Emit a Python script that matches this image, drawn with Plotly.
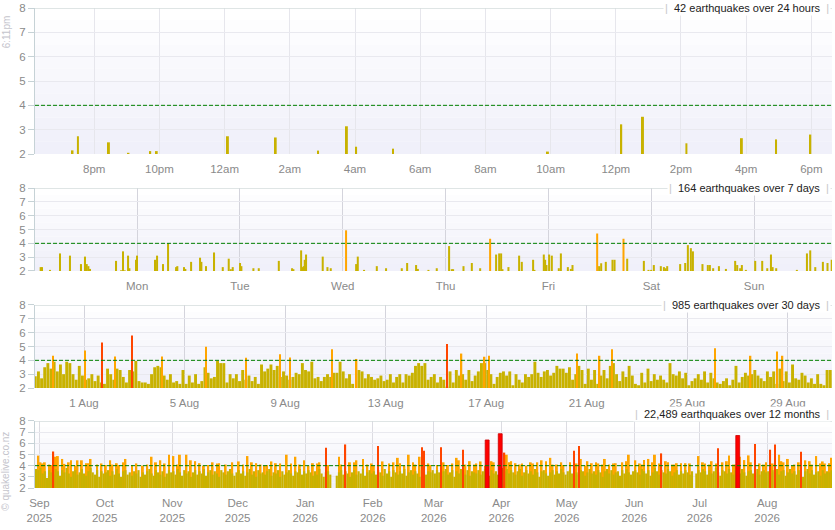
# Quake activity chart: four stacked magnitude panels (24h / 7d / 30d / 12 months)
import pandas as pd
import plotly.graph_objects as go
from plotly.subplots import make_subplots

# ---------------- 24 hours (individual quakes above M2) ----------------
day_times = ["2026-08-29 19:20", "2026-08-29 19:30", "2026-08-29 20:27", "2026-08-29 21:03",
             "2026-08-29 21:43", "2026-08-29 21:55", "2026-08-30 00:06", "2026-08-30 01:34",
             "2026-08-30 02:52", "2026-08-30 03:45", "2026-08-30 04:02", "2026-08-30 05:10",
             "2026-08-30 09:55", "2026-08-30 12:10", "2026-08-30 12:50", "2026-08-30 14:10",
             "2026-08-30 15:52", "2026-08-30 16:55", "2026-08-30 17:58"]
day_mags = [2.15, 2.73, 2.48, 2.05, 2.12, 2.12, 2.73, 2.68, 2.14, 3.14, 2.30, 2.22,
            2.10, 3.22, 3.53, 2.44, 2.65, 2.60, 2.80]

# ---------------- 7 days (days after week_start) ----------------
week_start = "2026-08-23 00:10"
week_offsets = [0.055, 0.068, 0.146, 0.243, 0.340, 0.447, 0.486, 0.503, 0.519, 0.535,
                0.788, 0.837, 0.856, 0.872, 0.905, 0.918, 0.982, 0.992, 1.167, 1.187,
                1.245, 1.294, 1.372, 1.384, 1.449, 1.462, 1.518, 1.605, 1.618, 1.663,
                1.741, 1.826, 1.884, 1.904, 1.923, 1.994, 2.007, 2.124, 2.176, 2.371,
                2.500, 2.513, 2.588, 2.604, 2.614, 2.623, 2.636, 2.798, 2.844, 2.876,
                3.025, 3.123, 3.139, 3.200, 3.324, 3.414, 3.567, 3.619, 3.706, 3.723,
                3.826, 3.907, 4.027, 4.053, 4.066, 4.167, 4.248, 4.329, 4.426, 4.484,
                4.514, 4.533, 4.546, 4.604, 4.708, 4.734, 4.844, 4.857, 4.948, 4.961,
                4.974, 5.000, 5.026, 5.094, 5.114, 5.182, 5.211, 5.227, 5.467, 5.486,
                5.506, 5.551, 5.616, 5.636, 5.723, 5.759, 5.921, 5.966, 5.992, 6.018,
                6.086, 6.116, 6.132, 6.148, 6.274, 6.323, 6.349, 6.378, 6.398, 6.491,
                6.543, 6.563, 6.595, 6.651, 6.719, 6.809, 6.829, 6.858, 6.874, 6.913,
                7.004, 7.072, 7.121, 7.157, 7.173, 7.208, 7.409, 7.507, 7.539, 7.588,
                7.662, 7.707, 7.748]
week_mags = [2.28, 2.28, 2.08, 3.27, 3.11, 2.50, 3.04, 2.50, 2.35, 2.15,
             2.73, 2.05, 3.42, 2.05, 3.11, 2.20, 2.81, 3.11, 2.81, 3.11,
             2.50, 3.99, 2.28, 2.35, 2.28, 2.15, 2.66, 2.96, 2.66, 2.35,
             3.34, 2.28, 2.89, 2.13, 2.28, 2.58, 2.35, 2.20, 2.20, 2.73,
             2.20, 2.13, 3.49, 2.28, 2.35, 2.81, 3.19, 3.04, 2.28, 2.20,
             4.94, 2.50, 3.04, 2.08, 2.35, 2.20, 2.20, 2.58, 2.43, 2.15,
             2.08, 2.20, 3.80, 2.13, 2.13, 2.35, 2.58, 2.20, 4.33, 3.19,
             3.27, 3.27, 2.13, 2.28, 3.11, 2.66, 2.81, 2.08, 3.19, 2.81,
             2.43, 3.19, 3.11, 2.20, 3.27, 2.28, 2.15, 2.43, 4.71, 2.35,
             2.56, 2.66, 2.81, 2.81, 4.33, 2.89, 2.73, 2.08, 2.08, 2.43,
             2.35, 2.28, 2.20, 2.35, 2.50, 2.58, 3.87, 3.65, 3.42, 2.50,
             2.43, 2.43, 2.20, 2.35, 2.15, 2.73, 2.43, 2.20, 2.43, 2.08,
             2.73, 2.73, 2.20, 3.19, 2.28, 2.20, 2.08, 3.27, 3.49, 2.28,
             2.66, 2.58, 2.81]

# ---------------- 30 days ----------------
# largest quake below M4 in each 3-hour window, one row per day from 30 Jul
month_bin_start = "2026-07-30 00:00"
month_bins = [
    2.85, 3.2, 2.7, 3.5, 3.8, 3.4, 3.9, 3.2,
    3.7, 3.0, 3.9, 3.8, 3.0, 2.6, 3.6, 2.9,
    2.6, 2.7, 3.0, 2.5, 2.9, 2.4, 2.3, 3.4,
    3.0, 2.6, 3.4, 3.3, 2.8, 2.4, 3.3, 3.2,
    3.95, 2.5, 2.4, 2.4, 2.3, 3.0, 3.5, 3.6,
    3.5, 2.9, 2.6, 3.0, 2.4, 2.5, 2.3, 3.3,
    2.3, 2.9, 2.4, 3.0, 2.3, 2.5, 3.5, 3.1,
    2.7, 2.8, 3.95, 3.8, 3.8, 2.4, 3.0, 2.7,
    3.0, 2.5, 3.3, 2.6, 2.9, 2.5, 2.8, 2.3,
    3.7, 3.2, 3.4, 3.7, 3.3, 3.6, 2.8, 3.2,
    2.9, 2.6, 2.8, 3.1, 3.0, 3.8, 3.3, 3.2,
    3.9, 2.7, 2.8, 2.5, 2.8, 3.0, 2.8, 3.1,
    3.1, 3.9, 3.2, 2.7, 3.0, 2.3, None, 3.3,
    3.2, 2.7, 3.0, 2.8, 2.6, 2.7, 2.9, 2.5,
    2.6, 3.0, 2.4, 2.8, 3.0, 2.4, 3.0, 2.9,
    3.1, 3.6, 3.8, 3.6, 3.8, 2.6, 2.8, 3.0,
    2.4, 2.8, 2.6, 2.1, 3.2, 2.4, 3.3, 2.9,
    3.0, 2.6, 3.3, 2.5, 2.9, 3.2, 3.8, 3.8,
    3.3, 3.0, 2.3, 2.8, 3.1, 3.2, 2.9, 3.2,
    2.2, 3.0, 2.6, 2.4, 3.0, 2.8, 3.0, 3.9,
    3.1, 2.8, 3.2, 3.3, 2.9, 3.1, 3.6, 3.4,
    3.4, 3.1, 3.5, 2.6, 3.0, 3.6, 3.3, 2.3,
    3.4, 2.6, 3.3, 2.3, 2.9, 3.3, 2.7, 3.6,
    3.8, 3.0, 2.5, 3.2, 2.8, 3.6, 2.9, 2.3,
    2.2, 3.1, 2.4, 3.4, 2.5, 3.0, 2.6, 2.9,
    2.6, 2.4, 3.8, 3.0, 2.9, 3.2, 2.7, 3.1,
    2.2, 2.5, 2.7, 3.0, 2.6, 3.2, 2.4, 3.1,
    2.7, 2.4, 2.3, 2.5, 2.7, 2.2, 2.6, 3.6,
    2.4, 2.8, 3.1, 2.9, 3.0, 3.3, 2.9, 2.7,
    2.5, 3.2, 2.8, 3.2, 2.3, 3.4, 2.5, 3.2,
    2.4, 3.7, 2.7, 2.6, 3.1, 2.9, 2.4, 2.7,
    2.3, 3.0, 2.3, 2.2, 3.3, 3.3, 2.7,
]
month_big_times = ["2026-07-30 18:07", "2026-08-01 00:40", "2026-08-01 16:54", "2026-08-02 05:35",
                   "2026-08-02 21:49", "2026-08-04 02:28", "2026-08-05 20:28", "2026-08-07 10:39",
                   "2026-08-08 19:06", "2026-08-09 04:39", "2026-08-10 20:45", "2026-08-11 20:20",
                   "2026-08-15 10:48", "2026-08-16 00:30", "2026-08-16 22:31", "2026-08-17 02:38",
                   "2026-08-20 14:38", "2026-08-21 12:18", "2026-08-22 00:00", "2026-08-26 02:24",
                   "2026-08-27 12:30", "2026-08-28 13:40", "2026-08-28 19:00"]
month_big_mags = [4.33, 4.72, 5.28, 4.28, 5.8, 4.28, 4.98, 4.18, 4.44, 4.20, 4.80, 4.10,
                  5.18, 4.49, 4.26, 4.33, 4.49, 4.33, 4.80, 4.87, 4.33, 4.64, 4.33]

# ---------------- 12 months ----------------
# largest quake below M4 per day, one row per month starting 30 Aug 2025
year_start = "2025-08-30"
year_daily = [
    3.7, 3.6,
    3.8, 3.3, 3.5, 2.9, 3.6, 3.4, 3.2, 3.7, 3.5, 3.1, 3.6, 3.4, 3.8, 3.3, 3.0,
    3.5, 3.6, 3.2, 3.4, 3.7, 3.3, 3.1, 3.5, 3.8, 3.4, 3.2, 3.6, 3.0, 3.5, 3.3,
    3.4, 3.6, 3.1, 3.5, 3.2, 3.7, 3.3, 3.0, 3.5, 3.6, 3.2, 3.4, 3.1, 3.5, 3.3,
    3.6, 3.0, 3.4, 3.2, 3.5, 3.7, 3.3, 3.1, 3.6, 3.4, 3.2, 3.5, 3.0, 3.3, 3.6, 3.4,
    3.5, 3.2, 3.7, 3.4, 3.1, 3.6, 3.3, 3.5, 3.0, 3.4, 3.6, 3.2, 3.5, 3.3, 3.7,
    3.1, 3.4, 3.6, 3.2, 3.5, 3.3, 3.0, 3.6, 3.4, 3.2, 3.5, 3.7, 3.3, 3.1, 3.4,
    3.6, 3.3, 3.5, 3.1, 3.4, 3.7, 3.2, 3.5, 3.0, 3.6, 3.3, 3.4, 3.2, 3.5, 3.7,
    3.1, 3.4, 3.3, 3.6, 3.0, 3.5, 3.2, 3.4, 3.6, 3.3, 3.1, 3.5, 3.4, 3.7, 3.2, 3.5,
    3.3, 3.6, 3.4, 3.1, 3.5, 3.2, 3.7, 3.3, 3.0, 3.4, 3.5, 3.2, None, None, 3.1,
    3.4, 3.6, 3.2, 3.5, 3.3, 3.0, 3.4, 3.6, 3.2, 3.5, 3.3, 3.7, 3.1, 3.4, 3.6, 3.3,
    3.5, 3.2, 3.6, 3.4, 3.1, 3.7, 3.3, 3.5, 3.0, 3.6, 3.4, 3.2, 3.5, 3.3,
    3.7, 3.1, 3.4, 3.6, 3.2, 3.5, 3.3, 3.0, 3.6, 3.4, 3.2, 3.5, 3.4, 3.6,
    3.3, 3.6, 3.4, 3.1, 3.5, 3.7, 3.2, 3.4, 3.6, 3.0, 3.5, 3.3, 3.7, 3.4, 3.2,
    3.6, 3.1, 3.5, 3.4, 3.3, 3.6, 3.2, 3.5, 3.7, 3.4, 3.1, 3.6, 3.3, 3.5, 3.2, 3.6,
    3.8, 3.5, 3.7, 3.3, 3.6, 3.4, 3.2, 3.5, 3.7, 3.1, 3.4, 3.6, 3.3, 3.5, 3.2,
    3.7, 3.4, 3.0, 3.5, 3.6, 3.3, 3.1, 3.4, 3.6, 3.2, 3.5, 3.3, 3.7, 3.4, 3.2,
    3.5, 3.6, 3.3, 3.7, 3.4, 3.2, 3.6, 3.5, 3.1, 3.4, 3.7, 3.3, 3.5, 3.2, 3.6,
    3.4, 3.0, 3.5, 3.7, 3.3, 3.6, 3.2, 3.4, 3.5, 3.1, 3.6, 3.3, 3.7, 3.4, 3.2, 3.5,
    3.6, 3.4, 3.2, 3.7, 3.5, 3.3, 3.6, 3.1, 3.4, 3.8, 3.5, 3.2, 3.6, 3.4, 3.3,
    3.7, 3.5, 3.1, 3.4, 3.6, 3.2, 3.5, 3.3, 3.6, 3.4, 3.2, 3.5, None, 3.3, 3.6,
    3.4, 3.7, 3.5, 3.2, 3.6, 3.3, 3.5, 3.8, 3.4, 3.1, 3.6, 3.5, 3.3, 3.7, 3.4,
    3.2, 3.6, 3.5, 3.3, 3.7, 3.4, 3.1, 3.5, 3.6, 3.3, 3.4, 3.7, 3.2, 3.5, 3.6, 3.4,
    3.5, 3.3, 3.6, 3.4, 3.7, 3.2, 3.5, 3.6, 3.1, 3.4, 3.7, 3.3, 3.5, 3.2, 3.6,
    3.4, 3.0, 3.5, 3.7, 3.3, 3.6, 3.2, 3.4, 3.5, 3.1, 3.6, 3.3, 3.5, 3.4, 3.6,
]
# quakes of M4 and above (one per listed day)
year_big_dates = [
    "2025-08-31", "2025-09-01", "2025-09-02", "2025-09-03", "2025-09-06", "2025-09-07", "2025-09-08",
    "2025-09-09", "2025-09-11", "2025-09-12", "2025-09-15", "2025-09-18", "2025-09-20", "2025-09-22",
    "2025-09-23", "2025-09-24", "2025-09-27", "2025-10-01", "2025-10-03", "2025-10-06", "2025-10-07",
    "2025-10-10", "2025-10-13", "2025-10-15", "2025-10-18", "2025-10-22", "2025-10-24", "2025-10-26",
    "2025-10-30", "2025-11-01", "2025-11-04", "2025-11-07", "2025-11-09", "2025-11-13", "2025-11-17",
    "2025-11-19", "2025-11-22", "2025-11-25", "2025-11-28", "2025-12-01", "2025-12-05", "2025-12-09",
    "2025-12-11", "2025-12-14", "2025-12-16", "2025-12-18", "2025-12-20", "2025-12-23", "2025-12-27",
    "2025-12-31", "2026-01-04", "2026-01-07", "2026-01-10", "2026-01-11", "2026-01-16", "2026-01-19",
    "2026-01-21", "2026-01-24", "2026-01-27", "2026-01-29", "2026-02-03", "2026-02-05", "2026-02-08",
    "2026-02-12", "2026-02-13", "2026-02-15", "2026-02-17", "2026-02-19", "2026-02-22", "2026-02-23",
    "2026-02-24", "2026-02-27", "2026-03-02", "2026-03-04", "2026-03-07", "2026-03-09", "2026-03-11",
    "2026-03-12", "2026-03-14", "2026-03-17", "2026-03-19", "2026-03-22", "2026-03-25", "2026-03-28",
    "2026-03-31", "2026-04-02", "2026-04-03", "2026-04-05", "2026-04-07", "2026-04-10", "2026-04-12",
    "2026-04-14", "2026-04-17", "2026-04-19", "2026-04-23", "2026-04-26", "2026-04-29", "2026-05-02",
    "2026-05-04", "2026-05-06", "2026-05-07", "2026-05-10", "2026-05-12", "2026-05-15", "2026-05-18",
    "2026-05-20", "2026-05-23", "2026-05-26", "2026-05-29", "2026-06-01", "2026-06-03", "2026-06-05",
    "2026-06-07", "2026-06-10", "2026-06-13", "2026-06-16", "2026-06-18", "2026-06-20", "2026-06-22",
    "2026-06-24", "2026-06-30", "2026-07-03", "2026-07-06", "2026-07-09", "2026-07-11", "2026-07-14",
    "2026-07-16", "2026-07-18", "2026-07-19", "2026-07-21", "2026-07-23", "2026-07-26", "2026-07-28",
    "2026-07-31", "2026-08-02", "2026-08-04", "2026-08-06", "2026-08-08", "2026-08-10", "2026-08-13",
    "2026-08-16", "2026-08-18", "2026-08-20", "2026-08-23", "2026-08-25", "2026-08-26", "2026-08-29",
    "2026-08-30",
    "2025-09-05", "2025-09-14", "2025-09-17", "2025-09-29", "2025-10-04", "2025-10-09", "2025-10-20",
    "2025-10-28", "2025-11-03", "2025-11-11", "2025-11-15", "2025-11-21", "2025-12-03", "2025-12-07",
    "2025-12-13", "2025-12-25", "2025-12-29", "2026-01-02", "2026-01-06", "2026-01-17", "2026-01-23",
    "2026-01-31", "2026-02-01", "2026-02-10", "2026-02-20", "2026-02-26", "2026-03-05", "2026-03-15",
    "2026-03-20", "2026-03-24", "2026-03-27", "2026-04-04", "2026-04-09", "2026-04-15", "2026-04-21",
    "2026-04-24", "2026-04-28", "2026-05-05", "2026-05-09", "2026-05-14", "2026-05-17", "2026-05-22",
    "2026-05-28", "2026-06-04", "2026-06-09", "2026-06-12", "2026-06-15", "2026-06-19", "2026-06-26",
    "2026-07-02", "2026-07-05", "2026-07-08", "2026-07-13", "2026-07-17", "2026-07-24", "2026-07-30",
    "2026-08-03", "2026-08-07", "2026-08-12", "2026-08-15", "2026-08-21", "2026-08-27"]
year_big_mags = [
    4.90, 4.30, 4.20, 4.30, 4.06, 5.27, 4.80,
    4.86, 4.60, 4.16, 4.48, 4.48, 4.48, 4.22,
    4.22, 4.60, 4.10, 4.06, 4.48, 4.22, 4.06,
    4.60, 4.06, 4.20, 4.00, 4.80, 4.30, 4.48,
    4.98, 4.86, 4.98, 4.98, 4.48, 4.22, 4.06,
    4.30, 4.22, 4.10, 4.30, 4.38, 4.86, 4.22,
    4.10, 4.06, 4.38, 4.22, 4.20, 4.98, 4.80,
    4.48, 4.22, 4.30, 5.60, 4.06, 4.80, 5.90,
    4.30, 4.48, 4.60, 4.10, 5.75, 4.38, 4.20,
    4.70, 4.22, 4.00, 4.98, 4.30, 4.80, 5.65,
    5.33, 4.06, 4.06, 5.65, 4.06, 4.20, 4.70,
    4.48, 5.43, 4.40, 4.10, 4.38, 6.30, 4.30,
    6.86, 5.17, 4.98, 4.40, 4.22, 4.20, 4.00,
    4.30, 4.30, 4.48, 4.70, 4.10, 4.06, 4.30,
    5.33, 5.75, 4.60, 4.40, 4.22, 4.20, 4.60,
    4.10, 4.22, 4.30, 4.98, 4.48, 4.20, 4.50,
    4.60, 4.98, 5.10, 4.30, 4.10, 4.22, 4.22,
    4.22, 4.86, 4.20, 4.40, 5.56, 4.30, 4.92,
    4.10, 6.70, 4.80, 4.50, 4.92, 5.95, 4.20,
    4.30, 5.43, 5.90, 4.98, 4.30, 4.60, 4.10,
    5.24, 4.48, 4.40, 4.86, 4.20, 4.38, 4.22,
    4.70,
    4.10, 4.30, 4.00, 4.20, 4.10, 4.30, 4.10,
    4.20, 4.10, 4.40, 4.00, 4.20, 4.10, 4.30,
    4.00, 4.20, 4.10, 4.00, 4.20, 4.10, 4.30,
    4.20, 4.00, 4.30, 4.10, 4.20, 4.30, 4.10,
    4.20, 4.00, 4.40, 4.30, 4.10, 4.20, 4.40,
    4.10, 4.30, 4.20, 4.00, 4.30, 4.10, 4.20,
    4.40, 4.10, 4.30, 4.20, 4.40, 4.10, 4.20,
    4.30, 4.10, 4.20, 4.40, 4.10, 4.30, 4.10,
    4.20, 4.40, 4.00, 4.30, 4.10, 4.20]

# ---------------- axis ticks and titles ----------------
day_ticks = ["2026-08-29 20:00", "2026-08-29 22:00", "2026-08-30 00:00", "2026-08-30 02:00",
             "2026-08-30 04:00", "2026-08-30 06:00", "2026-08-30 08:00", "2026-08-30 10:00",
             "2026-08-30 12:00", "2026-08-30 14:00", "2026-08-30 16:00", "2026-08-30 18:00"]
day_labels = ["8pm", "10pm", "12am", "2am", "4am", "6am", "8am", "10am", "12pm", "2pm", "4pm", "6pm"]
week_ticks = ["2026-08-24", "2026-08-25", "2026-08-26", "2026-08-27", "2026-08-28", "2026-08-29", "2026-08-30"]
week_labels = ["Mon", "Tue", "Wed", "Thu", "Fri", "Sat", "Sun"]
month_ticks = ["2026-08-01", "2026-08-05", "2026-08-09", "2026-08-13", "2026-08-17", "2026-08-21",
               "2026-08-25", "2026-08-29"]
month_labels = ["1 Aug", "5 Aug", "9 Aug", "13 Aug", "17 Aug", "21 Aug", "25 Aug", "29 Aug"]
year_ticks = ["2025-09-01", "2025-10-01", "2025-11-01", "2025-12-01", "2026-01-01", "2026-02-01",
              "2026-03-01", "2026-04-01", "2026-05-01", "2026-06-01", "2026-07-01", "2026-08-01"]
year_labels = ["Sep<br>2025", "Oct<br>2025", "Nov<br>2025", "Dec<br>2025", "Jan<br>2026", "Feb<br>2026",
               "Mar<br>2026", "Apr<br>2026", "May<br>2026", "Jun<br>2026", "Jul<br>2026", "Aug<br>2026"]
panel_titles = ["42 earthquakes over 24 hours", "164 earthquakes over 7 days",
                "985 earthquakes over 30 days", "22,489 earthquakes over 12 months"]
panel_ranges = [["2026-08-29 18:11", "2026-08-30 18:38"], ["2026-08-23 00:10", "2026-08-30 18:11"],
                ["2026-07-30 01:13", "2026-08-30 18:11"], ["2025-08-30 00:00", "2026-08-30 18:11"]]

OLIVE = "#c8b200"
ORANGE = "#ffa500"
REDORANGE = "#ff4500"
RED = "#ff0000"
FONT = "Liberation Sans, Arial, sans-serif"
TICK_GREY = "#8a8a8a"


def mag_color(m):
    if m >= 6:
        return RED
    if m >= 5:
        return REDORANGE
    if m >= 4:
        return ORANGE
    return OLIVE


fig = make_subplots(rows=4, cols=1)

# 24 hours
fig.add_trace(go.Bar(x=pd.to_datetime(day_times), y=day_mags, width=2.2e5,
                     marker=dict(color=[mag_color(m) for m in day_mags], line_width=0)), row=1, col=1)

# 7 days
week_x = pd.Timestamp(week_start) + pd.to_timedelta(week_offsets, unit="D")
fig.add_trace(go.Bar(x=week_x, y=week_mags, width=1.7e6,
                     marker=dict(color=[mag_color(m) for m in week_mags], line_width=0)), row=2, col=1)

# 30 days
month_x = pd.date_range(month_bin_start, periods=len(month_bins), freq="3h") + pd.Timedelta(minutes=90)
fig.add_trace(go.Bar(x=month_x, y=month_bins, width=1.0e7,
                     marker=dict(color=OLIVE, line_width=0)), row=3, col=1)
fig.add_trace(go.Bar(x=pd.to_datetime(month_big_times), y=month_big_mags, width=4.8e6,
                     marker=dict(color=[mag_color(m) for m in month_big_mags], line_width=0)), row=3, col=1)

# 12 months: M4-5 under the daily fill, M5+ on top
yb = list(zip(pd.to_datetime(year_big_dates) + pd.Timedelta(hours=12), year_big_mags))
mid = [(d, m) for d, m in yb if m < 5]
big = [(d, m) for d, m in yb if 5 <= m < 6]
huge = [(d, m) for d, m in yb if m >= 6]
fig.add_trace(go.Bar(x=[d for d, _ in mid], y=[m for _, m in mid], width=7.5e7,
                     marker=dict(color=ORANGE, line_width=0)), row=4, col=1)
year_x = pd.date_range(year_start, periods=len(year_daily), freq="D") + pd.Timedelta(hours=12)
fig.add_trace(go.Bar(x=year_x, y=year_daily, width=8.64e7,
                     marker=dict(color=OLIVE, line_width=0)), row=4, col=1)
fig.add_trace(go.Bar(x=[d for d, _ in big], y=[m for _, m in big], width=5.0e7,
                     marker=dict(color=REDORANGE, line_width=0)), row=4, col=1)
fig.add_trace(go.Bar(x=[d for d, _ in huge], y=[m for _, m in huge], width=1.55e8,
                     marker=dict(color=RED, line=dict(width=0.8, color="#cc0000"))), row=4, col=1)

# panel geometry (plot area 35..832 x 8..488 px)
domains = [[0.6958, 1.0], [0.4521, 0.625], [0.2083, 0.3813], [0.0, 0.1396]]
ticks = [(day_ticks, day_labels, "#e6e6ec"), (week_ticks, week_labels, "#d4d4dc"),
         (month_ticks, month_labels, "#d4d4dc"), (year_ticks, year_labels, "#dcdce2")]

shapes = []
annotations = []
for i in range(4):
    ax = "" if i == 0 else str(i + 1)
    tv, tt, gcol = ticks[i]
    fig.layout["xaxis" + ax].update(
        type="date", range=panel_ranges[i], tickvals=tv, ticktext=tt,
        showgrid=True, gridcolor=gcol, gridwidth=1, zeroline=False, showline=False,
        ticks="outside", ticklen=4, tickcolor="rgba(0,0,0,0)",
        tickfont=dict(family=FONT, size=11.5, color=TICK_GREY), fixedrange=True)
    fig.layout["yaxis" + ax].update(
        domain=domains[i], range=[2, 8], tickvals=[2, 3, 4, 5, 6, 7, 8],
        showgrid=True, gridcolor="#e9e9ef", zeroline=False,
        showline=True, linecolor="#c6d2d6", linewidth=1,
        ticks="outside", ticklen=6, tickcolor="#c6d2d6",
        tickfont=dict(family=FONT, size=11.5, color=TICK_GREY), fixedrange=True)

    # soft vertical gradient behind each panel
    nb = 12
    for k in range(nb):
        f = k / (nb - 1)
        r = int(240 + (255 - 240) * f)
        g = int(240 + (255 - 240) * f)
        b = int(250 + (255 - 250) * f)
        shapes.append(dict(type="rect", xref="x" + ax + " domain", yref="y" + ax,
                           x0=0, x1=1, y0=2 + 6 * k / nb, y1=2 + 6 * (k + 1) / nb,
                           fillcolor=f"rgb({r},{g},{b})", line_width=0, layer="below"))
    # top border
    shapes.append(dict(type="line", xref="x" + ax + " domain", yref="y" + ax,
                       x0=0, x1=1, y0=8, y1=8, line=dict(color="#d4dcdc", width=1.5), layer="above"))
    # M4 reference line
    shapes.append(dict(type="line", xref="x" + ax + " domain", yref="y" + ax,
                       x0=0, x1=1, y0=4, y1=4, line=dict(color="#008000", width=1, dash="4px,2px"),
                       layer="above"))
    annotations.append(dict(
        xref="x" + ax + " domain", yref="y" + ax + " domain", x=1, y=1,
        xanchor="right", yanchor="middle", xshift=-1, yshift=7 if i == 3 else 0,
        text=("<span style='color:#c8c8c8'>|</span>  " + panel_titles[i]
              + "  <span style='color:#c8c8c8'>|</span>"),
        showarrow=False, bgcolor="white", borderpad=1,
        font=dict(family=FONT, size=11, color="#222222")))

annotations.append(dict(xref="paper", yref="paper", x=-0.036, y=0.95, text="6:11pm",
                        textangle=-90, showarrow=False, xanchor="center", yanchor="middle",
                        font=dict(family=FONT, size=10, color="#c4c4cc")))
annotations.append(dict(xref="paper", yref="paper", x=-0.037, y=0.035, text="© quakelive.co.nz",
                        textangle=-90, showarrow=False, xanchor="center", yanchor="middle",
                        font=dict(family=FONT, size=10, color="#c4c4cc")))

fig.update_layout(
    width=835, height=530,
    margin=dict(l=35, r=3, t=8, b=42),
    paper_bgcolor="white", plot_bgcolor="white",
    barmode="overlay", showlegend=False,
    shapes=shapes, annotations=annotations,
    font=dict(family=FONT),
)

# drop the default page margin so the chart fills the window exactly
fig.write_html("out.html", config={"displayModeBar": False},
               post_script="document.body.style.margin='0';")
